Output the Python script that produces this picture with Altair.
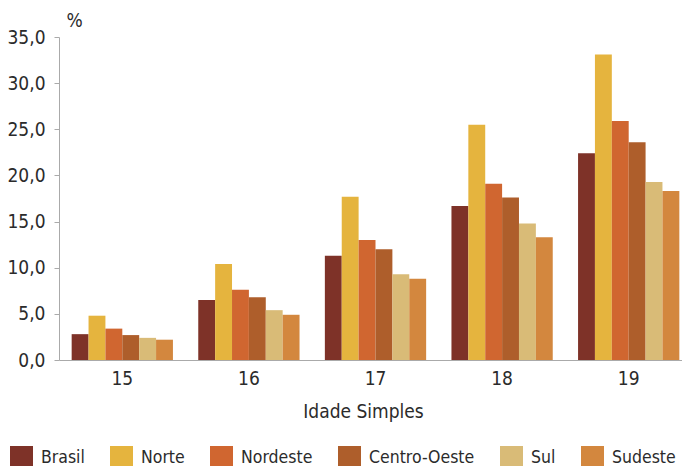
import altair as alt
import pandas as pd

ages = ["15", "16", "17", "18", "19"]
regions = ["Brasil", "Norte", "Nordeste", "Centro-Oeste", "Sul", "Sudeste"]
colors = ["#7e3228", "#e5b43e", "#d06630", "#ae5e2b", "#d9bb77", "#d3873e"]

brasil = [2.8, 6.5, 11.3, 16.7, 22.4]
norte = [4.8, 10.4, 17.7, 25.5, 33.1]
nordeste = [3.4, 7.6, 13.0, 19.1, 25.9]
centro_oeste = [2.7, 6.8, 12.0, 17.6, 23.6]
sul = [2.4, 5.4, 9.3, 14.8, 19.3]
sudeste = [2.2, 4.9, 8.8, 13.3, 18.3]

series = [brasil, norte, nordeste, centro_oeste, sul, sudeste]
rows = []
for reg, vals in zip(regions, series):
    for a, v in zip(ages, vals):
        rows.append({"Idade": a, "Região": reg, "Valor": v})
df = pd.DataFrame(rows)

FONT = "DejaVu Sans Condensed"
TXT = "#2b2b2b"

chart = alt.Chart(df).mark_bar(clip=True).encode(
    x=alt.X("Idade:N", sort=ages,
            scale=alt.Scale(range=[0, 633], paddingInner=0.2, paddingOuter=0.1),
            axis=alt.Axis(title="Idade Simples", labelAngle=0, ticks=False,
                          domainColor="#aaaaaa", labelPadding=9,
                          titleX=304, titleY=57, titleBaseline="alphabetic",
                          titleAlign="center", titleFontWeight="normal")),
    xOffset=alt.XOffset("Região:N", sort=regions,
                        scale=alt.Scale(paddingInner=0, paddingOuter=0)),
    y=alt.Y("Valor:Q", scale=alt.Scale(domain=[0, 35], nice=False),
            axis=alt.Axis(title="%", values=[0, 5, 10, 15, 20, 25, 30, 35],
                          labelExpr="replace(format(datum.value, '.1f'), '.', ',')",
                          grid=False, tickSize=5, tickColor="#aaaaaa",
                          domainColor="#aaaaaa", labelPadding=9,
                          titleAngle=0, titleX=7, titleY=-11,
                          titleAlign="left", titleBaseline="alphabetic",
                          titleFontWeight="normal")),
    color=alt.Color("Região:N", sort=regions,
                    scale=alt.Scale(domain=regions, range=colors),
                    legend=alt.Legend(title=None, orient="none", direction="horizontal",
                                      legendX=-49, legendY=409,
                                      symbolType="square", symbolSize=529,
                                      symbolStrokeWidth=0, labelOffset=8,
                                      columnPadding=25, symbolOpacity=1)),
).properties(
    width=623, height=323,
    autosize=alt.AutoSizeParams(type="none"),
    padding={"left": 59, "top": 37, "right": 0, "bottom": 106},
).configure(
    font=FONT,
).configure_axis(
    labelFont=FONT, titleFont=FONT, labelFontSize=19, titleFontSize=19,
    labelColor=TXT, titleColor=TXT,
).configure_legend(
    labelFont=FONT, labelFontSize=17.5, labelColor=TXT,
).configure_view(stroke=None)

chart.save("out.html", embed_options={"renderer": "svg", "actions": False})
